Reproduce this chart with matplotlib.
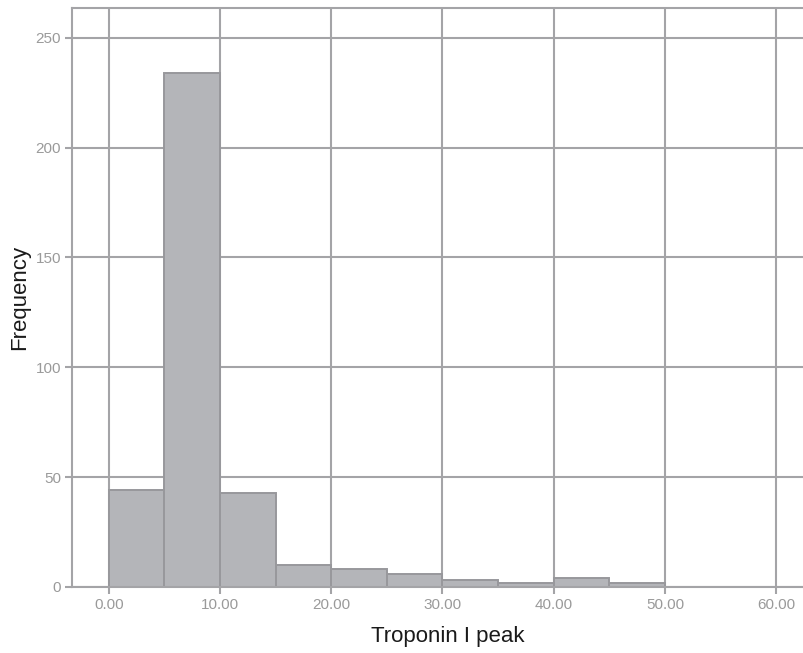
import matplotlib.pyplot as plt
import numpy as np

# histogram of troponin I peak, bins of width 5
bin_edges = [0, 5, 10, 15, 20, 25, 30, 35, 40, 45, 50]
counts = [44, 234, 43, 10, 8, 6, 3, 2, 4, 2]
x_ticks = [0, 10, 20, 30, 40, 50, 60]
y_ticks = [0, 50, 100, 150, 200, 250]

plt.rcParams['font.family'] = ['Liberation Sans', 'DejaVu Sans']

grid_col = '#a4a4a7'
tick_col = '#9a9a9a'
bar_col = '#b4b5b9'
edge_col = '#98989c'

fig = plt.figure(figsize=(8.04, 6.53), dpi=100)
ax = fig.add_axes([72 / 804, 66 / 653, 1 - 72 / 804, (587 - 8.3) / 653])

left = np.array(bin_edges[:-1])
widths = np.diff(bin_edges)
ax.bar(left, counts, width=widths, align='edge', color=bar_col,
       edgecolor=edge_col, linewidth=1.4, zorder=2)

ax.set_xlim(-3.3, 62.5)
ax.set_ylim(0, 263.4)
ax.set_xticks(x_ticks)
ax.set_xticklabels([f"{v:.2f}" for v in x_ticks])
ax.set_yticks(y_ticks)

ax.grid(True, color=grid_col, linewidth=1.5)
ax.set_axisbelow(True)

for side in ['left', 'top', 'bottom']:
    ax.spines[side].set_color(grid_col)
    ax.spines[side].set_linewidth(1.5)
ax.spines['right'].set_visible(False)

ax.tick_params(axis='both', colors=grid_col, width=1.5, length=5,
               labelcolor=tick_col, labelsize=11, pad=3)

ax.set_xlabel("Troponin I peak", fontsize=16, color='#1a1a1a', va='center')
ax.set_ylabel("Frequency", fontsize=16, color='#1a1a1a', va='center')
ax.xaxis.set_label_coords((448 - 72) / (804 - 72), -0.0864)
ax.yaxis.set_label_coords((20 - 72) / (804 - 72), 0.5)

fig.savefig("out.png", dpi=100)
